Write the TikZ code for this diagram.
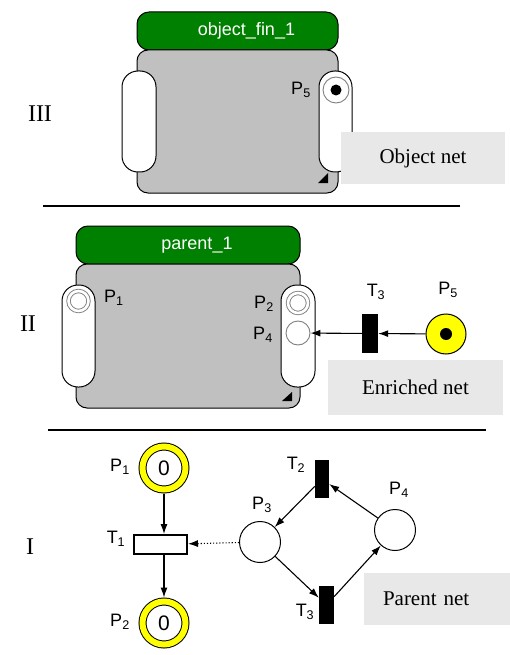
\documentclass[tikz,border=0pt]{standalone}
\usepackage{fontspec}
\setmainfont{Liberation Serif}
\setsansfont{Liberation Sans}
\usetikzlibrary{arrows.meta}

\definecolor{netgreen}{RGB}{0,128,0}
\definecolor{netgray}{RGB}{192,192,192}
\definecolor{boxgray}{RGB}{232,232,232}
\definecolor{ringgray}{RGB}{128,128,128}
\definecolor{tokenyellow}{RGB}{255,255,0}

\tikzset{
  headbar/.style={draw=black, line width=1pt, fill=netgreen, rounded corners=12pt, inner sep=0pt},
  headname/.style={text=white, font=\sffamily\fontsize{18}{21}\selectfont, inner sep=0pt},
  netbody/.style={draw=black, line width=1pt, fill=netgray, rounded corners=11pt, inner sep=0pt},
  portpill/.style={draw=black, line width=1pt, fill=white, rounded corners=16pt, inner sep=0pt},
  netcaption/.style={fill=boxgray, inner sep=0pt, font=\fontsize{21}{25}\selectfont},
  level/.style={font=\fontsize{24}{28}\selectfont, inner sep=0pt},
  plabel/.style={font=\sffamily\fontsize{18}{21}\selectfont, inner sep=0pt},
  portplace/.style={circle, draw=ringgray, line width=0.9pt, fill=white, inner sep=0pt},
  doubleplace/.style={circle, draw=ringgray, line width=0.9pt, double=white,
    double distance=2.6pt, fill=white, inner sep=0pt, minimum size=20pt},
  yellowplace/.style={circle, draw=black, line width=1pt, double=tokenyellow,
    double distance=6pt, fill=white, inner sep=0pt, minimum size=43pt, outer sep=4pt,
    font=\sffamily\fontsize{21}{23}\selectfont},
  tokplace/.style={circle, draw=black, line width=1pt, fill=tokenyellow, inner sep=0pt},
  plainplace/.style={circle, draw=black, line width=1pt, fill=white, inner sep=0pt, minimum size=41pt},
  bartrans/.style={rectangle, fill=black, inner sep=0pt},
  boxtrans/.style={rectangle, draw=black, line width=2pt, fill=white, inner sep=0pt,
    minimum width=53pt, minimum height=19pt},
  arr/.style={draw=black, line width=1.1pt, -{Latex[length=10pt,width=7pt]}},
  sepline/.style={draw=black, line width=1.4pt},
}

\begin{document}
\begin{tikzpicture}[x=1pt,y=-1pt]
\useasboundingbox (0,0) rectangle (510,655);

% ---------------- level III : object net ----------------
\node[level] (lvIII) at (40,114) {III};
\node[headbar, minimum width=201pt, minimum height=38pt] (objbar) at (237.5,31) {};
\node[headname] (objname) at ([xshift=9pt]objbar.center) {object\_fin\_1};
\node[netbody, minimum width=201pt, minimum height=143pt] (objbody) at (237.5,121.5) {};
\node[portpill, minimum width=34pt, minimum height=101pt] (objin) at (139,121.5) {};
\node[portpill, minimum width=33pt, minimum height=101pt] (objout) at (335.5,121.5) {};
\node[portplace, minimum size=26pt] (oP5) at (336,90) {};
\fill[black] (oP5) circle (5.5pt);
\node[plabel] (oP5l) at (301,90) {P\textsubscript{5}};
\fill[black] (318,183) -- (328,183) -- (328,173) -- cycle;
\node[netcaption, minimum width=164pt, minimum height=52pt] (objcap) at (423,158) {Object net};

\draw[sepline] (43,206) -- (460,206);

% ---------------- level II : enriched net ----------------
\node[level] (lvII) at (28,324) {II};
\node[headbar, minimum width=224pt, minimum height=38pt] (parbar) at (188,245) {};
\node[headname] (parname) at ([xshift=9pt]parbar.center) {parent\_1};
\node[netbody, minimum width=224pt, minimum height=144pt] (parbody) at (188,336) {};
\node[portpill, minimum width=33pt, minimum height=102pt] (parin) at (78.5,336) {};
\node[portpill, minimum width=34pt, minimum height=102pt] (parout) at (298,336) {};
\node[doubleplace] (eP1) at (78.5,301) {};
\node[plabel, anchor=west] (eP1l) at (104,298) {P\textsubscript{1}};
\node[doubleplace] (eP2) at (298,303) {};
\node[plabel] (eP2l) at (264,304) {P\textsubscript{2}};
\node[portplace, minimum size=24pt] (eP4) at (298,333) {};
\node[plabel] (eP4l) at (263,335) {P\textsubscript{4}};
\fill[black] (282,401) -- (292,401) -- (292,392) -- cycle;

\node[bartrans, minimum width=16pt, minimum height=39pt] (eT3) at (370,333.5) {};
\node[plabel] (eT3l) at (376,292) {T\textsubscript{3}};
\node[tokplace, minimum size=40pt] (eP5) at (446,334) {};
\fill[black] (eP5) circle (6pt);
\node[plabel] (eP5l) at (448,290) {P\textsubscript{5}};
\draw[arr] (eP5) -- (eT3);
\draw[arr] (eT3) -- (eP4);
\node[netcaption, minimum width=175pt, minimum height=55pt] (enrcap) at (415.5,387.5) {Enriched net};

\draw[sepline] (48,430) -- (486,430);

% ---------------- level I : parent net ----------------
\node[level] (lvI) at (30,547) {I};
\node[yellowplace] (pP1) at (164,468) {0};
\node[plabel] (pP1l) at (120,467) {P\textsubscript{1}};
\node[boxtrans] (pT1) at (160.5,544.5) {};
\node[plabel] (pT1l) at (116,539) {T\textsubscript{1}};
\node[yellowplace] (pP2) at (164,623) {0};
\node[plabel] (pP2l) at (120,622) {P\textsubscript{2}};
\draw[arr] (pP1) -- (pP1 |- pT1.north);
\draw[arr] (pP2 |- pT1.south) -- (pP2);

\node[plainplace] (pP3) at (260,542) {};
\node[plabel] (pP3l) at (262,505) {P\textsubscript{3}};
\node[plainplace] (pP4) at (395,530) {};
\node[plabel] (pP4l) at (399,490) {P\textsubscript{4}};
\node[bartrans, minimum width=14pt, minimum height=38pt] (pT2) at (322,479) {};
\node[plabel] (pT2l) at (296,465) {T\textsubscript{2}};
\node[bartrans, minimum width=15pt, minimum height=38pt] (pT3) at (326.5,605) {};
\node[plabel] (pT3l) at (305,612) {T\textsubscript{3}};

\draw[arr] (pT2) -- (pP3);
\draw[arr] (pP4) -- (pT2);
\draw[arr] (pP3) -- (pT3);
\draw[arr] (pT3) -- (pP4);
\draw[arr, dotted] (pP3) -- (pT1);

\node[netcaption, minimum width=146pt, minimum height=52pt, align=left,
      text width=108pt, inner xsep=19pt] (parcap) at (437,599) {Parent net};
\end{tikzpicture}
\end{document}
